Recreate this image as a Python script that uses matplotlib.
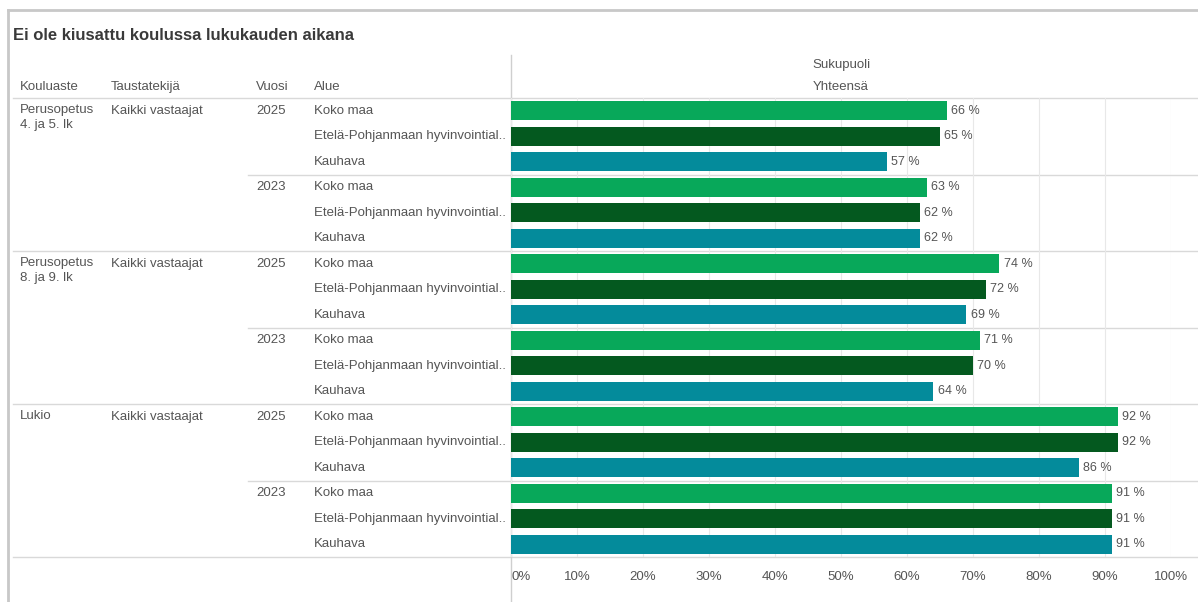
import numpy as np
import matplotlib.pyplot as plt
from matplotlib.ticker import FixedLocator

plt.rcParams["font.family"] = ["Liberation Sans", "DejaVu Sans"]

title = "Ei ole kiusattu koulussa lukukauden aikana"
headers = ["Kouluaste", "Taustatekijä", "Vuosi", "Alue"]
kouluasteet = ["Perusopetus\n4. ja 5. lk", "Perusopetus\n8. ja 9. lk", "Lukio"]
taustatekija = "Kaikki vastaajat"
vuodet = ["2025", "2023"]
alueet = ["Koko maa", "Etelä-Pohjanmaan hyvinvointial..", "Kauhava"]

# percentages: [kouluaste][vuosi][alue]
p45_2025 = [66, 65, 57]
p45_2023 = [63, 62, 62]
p89_2025 = [74, 72, 69]
p89_2023 = [71, 70, 64]
lukio_2025 = [92, 92, 86]
lukio_2023 = [91, 91, 91]
arvot = [[p45_2025, p45_2023], [p89_2025, p89_2023], [lukio_2025, lukio_2023]]

xticks = [0, 10, 20, 30, 40, 50, 60, 70, 80, 90, 100]
xticklabels = [f"{t}%" for t in xticks]

colors = ["#08a85a", "#04591f", "#048b9b"]
txt = "#555555"
line = "#d9d9d9"
fs = 9.5

W, H = 1198, 602
fig = plt.figure(figsize=(W / 100, H / 100), dpi=100)

# background axes in pixel coordinates for the table part
bg = fig.add_axes([0, 0, 1, 1])
bg.set_xlim(0, W)
bg.set_ylim(H, 0)
bg.axis("off")

# bar area
x0, x1 = 511, 1171
y0, y1 = 98, 557
ax = fig.add_axes([x0 / W, 1 - y1 / H, (x1 - x0) / W, (y1 - y0) / H])
n_rows = 18
ax.set_ylim(n_rows - 0.5, -0.5)
ax.set_xlim(0, 100)
ax.set_facecolor("none")
for s in ax.spines.values():
    s.set_visible(False)
ax.set_yticks([])
ax.set_xticks([])
ax.xaxis.set_minor_locator(FixedLocator(xticks))
ax.grid(which="minor", axis="x", color="#e8e8e8", lw=0.8)
ax.tick_params(which="minor", length=0)

row_h = (y1 - y0) / n_rows
row = 0
for k, kouluaste in enumerate(kouluasteet):
    ky = y0 + row * row_h + row_h / 2
    bg.text(20, ky - 7, kouluaste, fontsize=fs, color=txt, va="top", linespacing=1.4)
    bg.text(111, ky, taustatekija, fontsize=fs, color=txt, va="center")
    for v, vuosi in enumerate(vuodet):
        vy = y0 + row * row_h + row_h / 2
        bg.text(256, vy, vuosi, fontsize=fs, color=txt, va="center")
        vals = arvot[k][v]
        ys = np.arange(row, row + len(alueet))
        ax.barh(ys, vals, height=0.74, color=colors, zorder=3)
        for yy, val in zip(ys, vals):
            ax.annotate(f"{val} %", (val, yy), xytext=(3, 0), textcoords="offset points",
                        va="center", ha="left", fontsize=9, color=txt, zorder=4)
        for a, alue in enumerate(alueet):
            ay = y0 + (row + a) * row_h + row_h / 2
            bg.text(314, ay, alue, fontsize=fs, color=txt, va="center")
        row += len(alueet)
        if v == 0:
            sep_y = y0 + row * row_h
            bg.plot([248, W], [sep_y, sep_y], color=line, lw=1)
    sep_y = y0 + row * row_h
    bg.plot([13, W], [sep_y, sep_y], color=line, lw=1)

# header
bg.text(13, 35, title, fontsize=12, fontweight="bold", color="#3a3a3a", va="center")
for hx, h in zip([20, 111, 256, 314], headers):
    bg.text(hx, 87, h, fontsize=fs, color=txt, va="center")
bg.text((x0 + x1) / 2, 65, "Sukupuoli", fontsize=fs, color=txt, va="center", ha="center")
bg.text((x0 + x1) / 2, 87, "Yhteensä", fontsize=fs, color=txt, va="center", ha="center")
bg.plot([13, W], [y0, y0], color=line, lw=1)

# x axis labels
for i, (t, lab) in enumerate(zip(xticks, xticklabels)):
    px = x0 + (x1 - x0) * t / 100
    bg.text(px + 1 if i == 0 else px, 577, lab, fontsize=fs, color=txt, va="center",
            ha="left" if i == 0 else "center")

# frame lines
bg.plot([x0, x0], [55, H], color="#cfcfcf", lw=1)
bg.plot([8, W], [10, 10], color="#c8c8c8", lw=2)
bg.plot([8, 8], [10, H], color="#c8c8c8", lw=2)

fig.savefig("out.png", dpi=100)
